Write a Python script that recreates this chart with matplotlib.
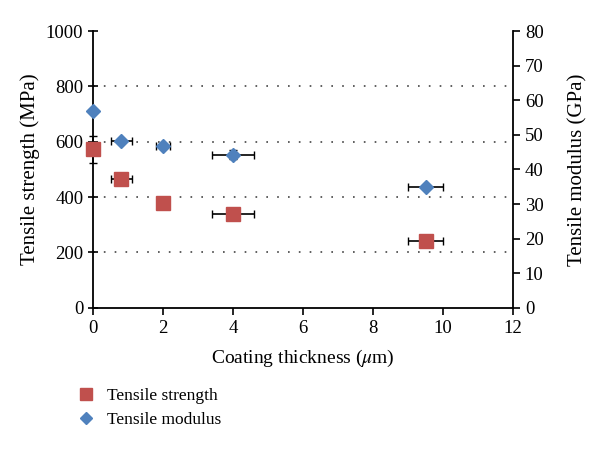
import matplotlib
matplotlib.use("Agg")
import matplotlib.pyplot as plt
import numpy as np

plt.rcParams['font.family'] = ['Liberation Serif', 'DejaVu Serif']
plt.rcParams['mathtext.fontset'] = 'stix'

# coating thickness (um)
thickness = [0, 0.8, 2, 4, 9.5]
thickness_err = [0, 0.3, 0.15, 0.6, 0.5]

# tensile strength (MPa)
strength = [572, 465, 378, 340, 243]
strength_err = [48, 0, 0, 0, 0]

# tensile modulus (GPa)
modulus = [57, 48.2, 46.8, 44.2, 35]
modulus_err = [0, 0, 0.4, 1.3, 0]
modulus_xerr = [0, 0.3, 0.2, 0.6, 0.5]

red = '#C0504D'
blue = '#4F81BD'

fig = plt.figure(figsize=(6, 4.5), dpi=100)
ax = fig.add_axes([0.155, 0.316, 0.7, 0.615])
ax2 = ax.twinx()

eb1 = ax.errorbar(thickness, strength, xerr=thickness_err, yerr=strength_err, fmt='s',
                  color=red, ms=10.5, ecolor='black', elinewidth=1.2, capsize=3, zorder=3,
                  label='Tensile strength')
eb2 = ax2.errorbar(thickness, modulus, xerr=modulus_xerr, yerr=modulus_err, fmt='D',
                   color=blue, ms=7.5, ecolor='black', elinewidth=1.2, capsize=3, zorder=3,
                   label='Tensile modulus')
for eb in (eb1, eb2):
    eb[0].set_clip_on(False)
    for art in eb[1] + eb[2]:
        art.set_clip_on(False)

ax.set_xlim(0, 12)
ax.set_ylim(0, 1000)
ax2.set_ylim(0, 80)
ax.set_xticks(np.arange(0, 13, 2))
ax.set_yticks(np.arange(0, 1001, 200))
ax2.set_yticks(np.arange(0, 81, 10))

for y in [200, 400, 600, 800]:
    ax.axhline(y, color='#444444', linestyle=(0, (1, 5.5)), linewidth=1.2, zorder=1)

for a in (ax, ax2):
    a.spines['top'].set_visible(False)
    for s in ('left', 'right', 'bottom'):
        a.spines[s].set_linewidth(1.3)
    a.tick_params(labelsize=13.5, width=1.2, length=5)
ax.spines['right'].set_visible(False)
ax2.spines['left'].set_visible(False)
ax2.spines['bottom'].set_visible(False)
ax.tick_params(axis='y', direction='inout', length=7)
ax2.tick_params(axis='y', direction='out')

ax.set_xlabel(r'Coating thickness ($\mu$m)', fontsize=14, labelpad=8)
ax.set_ylabel('Tensile strength (MPa)', fontsize=15, labelpad=4)
ax2.set_ylabel('Tensile modulus (GPa)', fontsize=15, labelpad=18)

h1, l1 = ax.get_legend_handles_labels()
h2, l2 = ax2.get_legend_handles_labels()
handles = [h1[0][0], h2[0][0]]
fig.legend(handles, l1 + l2, loc='upper left', bbox_to_anchor=(0.1, 0.173),
           frameon=False, fontsize=12.5, handletextpad=0.6, labelspacing=0.45,
           handlelength=1.2, markerscale=0.85)

fig.savefig('out.png', dpi=100)
